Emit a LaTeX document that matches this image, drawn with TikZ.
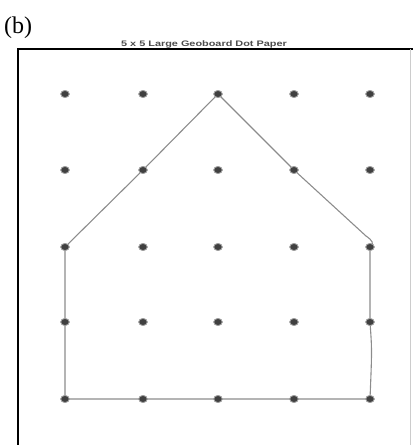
\documentclass[tikz,border=0pt]{standalone}
\usepackage{fontspec}
\setmainfont{Liberation Serif}
\setsansfont{Liberation Sans}
\usetikzlibrary{shapes.geometric}
\begin{document}
\begin{tikzpicture}[x=1pt,y=-1pt,
  dotmark/.style={ellipse,inner sep=0pt,minimum width=8.5pt,minimum height=7pt,fill=black!75,draw=black!35,line width=0.7pt},
  shape line/.style={draw=black!45,line width=1.1pt,line join=round},
  frame/.style={draw=black,line width=2pt}]
\useasboundingbox (0,0) rectangle (413,445);
\node[anchor=west,font=\fontsize{24}{26}\selectfont,inner sep=0pt] (lbl) at (4,28) {(b)};
\node[font=\sffamily\bfseries\fontsize{8}{9}\selectfont,text=black!70,inner sep=0pt,xscale=1.36] (title) at (204,44) {5 x 5 Large Geoboard Dot Paper};
\draw[frame] (18,445) -- (18,49) -- (413,49);
\draw[black!20,line width=0.6pt] (410,49) -- (410,445);
\foreach \c [count=\i] in {65,143,218,294,370}{
  \foreach \r [count=\j] in {94,170,247,322,399}{
    \node[dotmark] (d\i\j) at (\c,\r) {};
  }
}
\draw[shape line] (d13.center) -- (d22.center) -- (d31.center) -- (d42.center) -- (366,236)
  .. controls (372,240) and (375,244) .. (d53.center)
  -- (d54.center) .. controls (372,350) .. (d55.center)
  -- (d45.center) -- (d35.center) -- (d25.center) -- (d15.center) -- (d14.center) -- (d13.center);
\foreach \c [count=\i] in {65,143,218,294,370}{
  \foreach \r [count=\j] in {94,170,247,322,399}{
    \node[dotmark] at (d\i\j) {};
  }
}
\end{tikzpicture}
\end{document}
